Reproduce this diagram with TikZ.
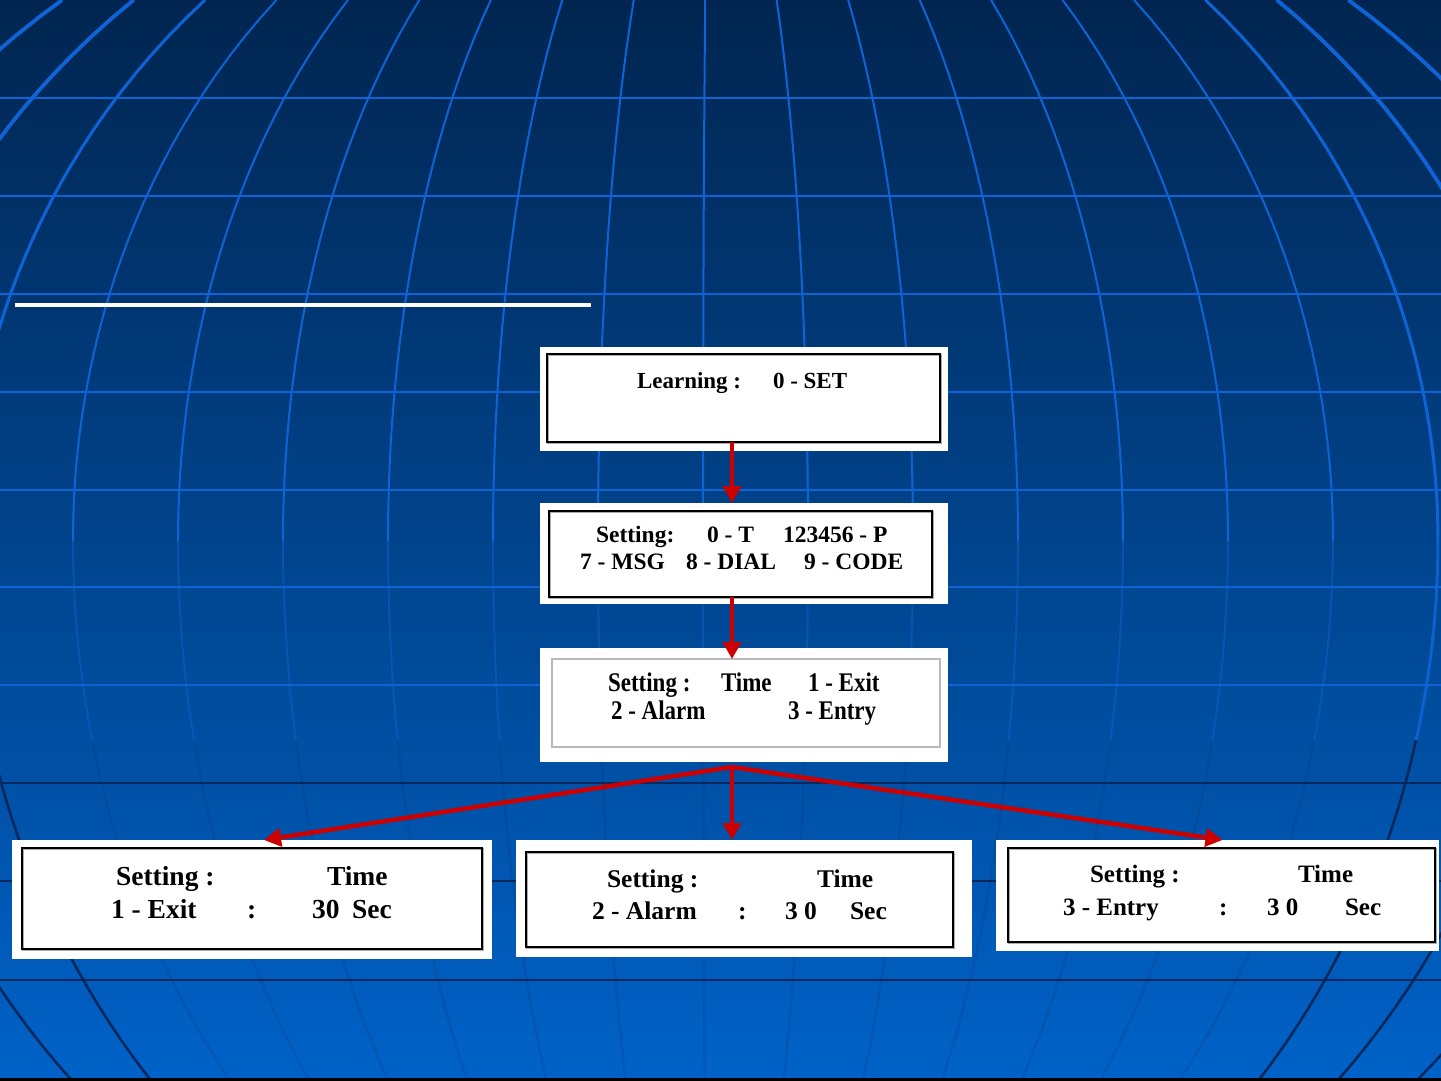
\documentclass[tikz,border=0pt]{standalone}
\usepackage{fontspec}
\setmainfont{Liberation Serif}
\usetikzlibrary{arrows.meta}
\definecolor{bgtop}{RGB}{1,37,80}
\definecolor{bgmid}{RGB}{0,66,138}
\definecolor{bgbot}{RGB}{0,98,200}
\definecolor{gridl}{RGB}{14,100,214}
\definecolor{gridd}{RGB}{10,40,92}
\definecolor{arrowred}{RGB}{204,0,0}
\begin{document}
\begin{tikzpicture}[x=1pt,y=-1pt,
  outerbox/.style={fill=white, draw=none, inner sep=0pt, outer sep=0pt},
  innerbox/.style={draw=black, line width=2.2pt, inner sep=0pt, outer sep=0pt,
    preaction={draw=gray!65, line width=2pt, transform canvas={shift={(1.3pt,-1.3pt)}}}},
  lightbox/.style={draw=gray!55, line width=1.8pt, inner sep=0pt, outer sep=0pt},
  txt/.style={anchor=base west, inner sep=0pt, outer sep=0pt, text=black},
  fa/.style={font=\bfseries\fontsize{23}{23}\selectfont},
  fb/.style={font=\bfseries\fontsize{23.5}{23.5}\selectfont},
  fc/.style={font=\bfseries\fontsize{27.5}{27.5}\selectfont},
  fd/.style={font=\bfseries\fontsize{25.5}{25.5}\selectfont},
  fe/.style={font=\bfseries\fontsize{25}{25}\selectfont},
  arr/.style={draw=arrowred, line width=4.5pt, -{Triangle[length=17pt,width=18pt]}}]
\useasboundingbox (0,0) rectangle (1441,1081);
% background
\shade[top color=bgtop, middle color=bgmid, bottom color=bgbot] (0,0) rectangle (1441,1081);
% upper grid (light)
\begin{scope}
\clip (0,0) rectangle (1441,740);
\foreach \yy in {98,196,294,392,490,587,685} \draw[gridl, line width=2.5pt] (0,\yy) -- (1441,\yy);
\end{scope}
\begin{scope}
\clip (0,0) rectangle (1441,540);
\foreach \k in {0,...,18} {
  \pgfmathsetmacro\d{-952+105*\k}
  \pgfmathsetmacro\lw{abs(\d)>790 ? 3.8 : (abs(\d)>700 ? 3 : 2)}
  \draw[gridl, line width=\lw pt] plot[domain=0:1081, samples=60, variable=\t]
    ({710+\d*sqrt(1-((\t-540)/(\t<540 ? 737 : 822))^2)}, \t);
}
\end{scope}
\begin{scope}
\clip (0,540) rectangle (1441,740);
\foreach \k in {0,...,18} {
  \pgfmathsetmacro\d{-952+105*\k}
  \pgfmathsetmacro\lw{abs(\d)>790 ? 3.8 : (abs(\d)>700 ? 3 : 2)}
  \pgfmathsetmacro\op{abs(\d)>700 ? 0.9 : 0.45}
  \draw[gridl, line width=\lw pt, opacity=\op] plot[domain=0:1081, samples=60, variable=\t]
    ({710+\d*sqrt(1-((\t-540)/(\t<540 ? 737 : 822))^2)}, \t);
}
\end{scope}
% lower grid (dark)
\begin{scope}
\clip (0,740) rectangle (1441,1081);
\foreach \yy in {783,881,980} \draw[gridd, line width=2.5pt] (0,\yy) -- (1441,\yy);
\foreach \k in {0,...,18} {
  \pgfmathsetmacro\d{-952+105*\k}
  \pgfmathsetmacro\op{abs(\d)>700 ? 1 : 0.15}
  \draw[gridd, line width=2.6pt, opacity=\op] plot[domain=0:1081, samples=60, variable=\t]
    ({710+\d*sqrt(1-((\t-540)/(\t<540 ? 737 : 822))^2)}, \t);
}
\end{scope}
\fill[black] (0,1078) rectangle (1441,1081);
% title underline
\draw[white, line width=4pt] (15,305) -- (591,305);

% boxes
\node[outerbox, minimum width=408, minimum height=104] (b1o) at (744,399) {};
\node[innerbox, minimum width=393, minimum height=88] (b1) at (743.5,398) {};
\node[outerbox, minimum width=408, minimum height=101] (b2o) at (744,553.5) {};
\node[innerbox, minimum width=383, minimum height=86] (b2) at (740.5,554) {};
\node[outerbox, minimum width=408, minimum height=114] (b3o) at (744,705) {};
\node[lightbox, minimum width=388, minimum height=88] (b3) at (746,703) {};
\node[outerbox, minimum width=480, minimum height=119] (b4o) at (252,899.5) {};
\node[innerbox, minimum width=460, minimum height=101] (b4) at (252,898.5) {};
\node[outerbox, minimum width=456, minimum height=117] (b5o) at (744,898.5) {};
\node[innerbox, minimum width=427, minimum height=95] (b5) at (739.5,899.5) {};
\node[outerbox, minimum width=443, minimum height=111] (b6o) at (1217.5,895.5) {};
\node[innerbox, minimum width=427, minimum height=94] (b6) at (1221.5,895) {};

% texts box 1
\node[txt, fa] (t1a) at (637,388) {Learning :};
\node[txt, fa] (t1b) at (773,388) {0 - SET};
% box 2
\node[txt, fb] (t2a) at (596,542) {Setting:};
\node[txt, fb] (t2b) at (707,542) {0 - T};
\node[txt, fb] (t2c) at (783,542) {123456 - P};
\node[txt, fb] (t2d) at (580,569) {7 - MSG};
\node[txt, fb] (t2e) at (686,569) {8 - DIAL};
\node[txt, fb] (t2f) at (804,569) {9 - CODE};
% box 3
\node[txt, fa] (t3a) at (608,691) {\scalebox{1}[1.17]{Setting :}};
\node[txt, fa] (t3b) at (721,691) {\scalebox{1}[1.17]{Time}};
\node[txt, fa] (t3c) at (808,691) {\scalebox{1}[1.17]{1 - Exit}};
\node[txt, fa] (t3d) at (611,719) {\scalebox{1}[1.17]{2 - Alarm}};
\node[txt, fa] (t3e) at (788,719) {\scalebox{1}[1.17]{3 - Entry}};
% box 4
\node[txt, fc] (t4a) at (116,885) {Setting :};
\node[txt, fc] (t4b) at (327,885) {Time};
\node[txt, fc] (t4c) at (111,918) {1 - Exit};
\node[txt, fc] (t4d) at (247,918) {:};
\node[txt, fc] (t4e) at (312,918) {30};
\node[txt, fc] (t4f) at (352,918) {Sec};
% box 5
\node[txt, fd] (t5a) at (607,887) {Setting :};
\node[txt, fd] (t5b) at (817,887) {Time};
\node[txt, fd] (t5c) at (592,919) {2 - Alarm};
\node[txt, fd] (t5d) at (738,919) {:};
\node[txt, fd] (t5e) at (785,919) {3 0};
\node[txt, fd] (t5f) at (850,919) {Sec};
% box 6
\node[txt, fe] (t6a) at (1090,882) {Setting :};
\node[txt, fe] (t6b) at (1298,882) {Time};
\node[txt, fe] (t6c) at (1063,915) {3 - Entry};
\node[txt, fe] (t6d) at (1219,915) {:};
\node[txt, fe] (t6e) at (1267,915) {3 0};
\node[txt, fe] (t6f) at (1345,915) {Sec};

% connectors
\coordinate (fan) at (732,767);
\draw[arr] (b1.south -| fan) -- (b2o.north -| fan);
\draw[arr] (b2.south -| fan) -- (b3.north -| fan);
\draw[arr] (fan) -- ([xshift=12pt]b4o.north);
\draw[arr] (fan) -- (b5o.north -| fan);
\draw[arr] (fan) -- ([xshift=5pt]b6o.north);
\end{tikzpicture}
\end{document}
